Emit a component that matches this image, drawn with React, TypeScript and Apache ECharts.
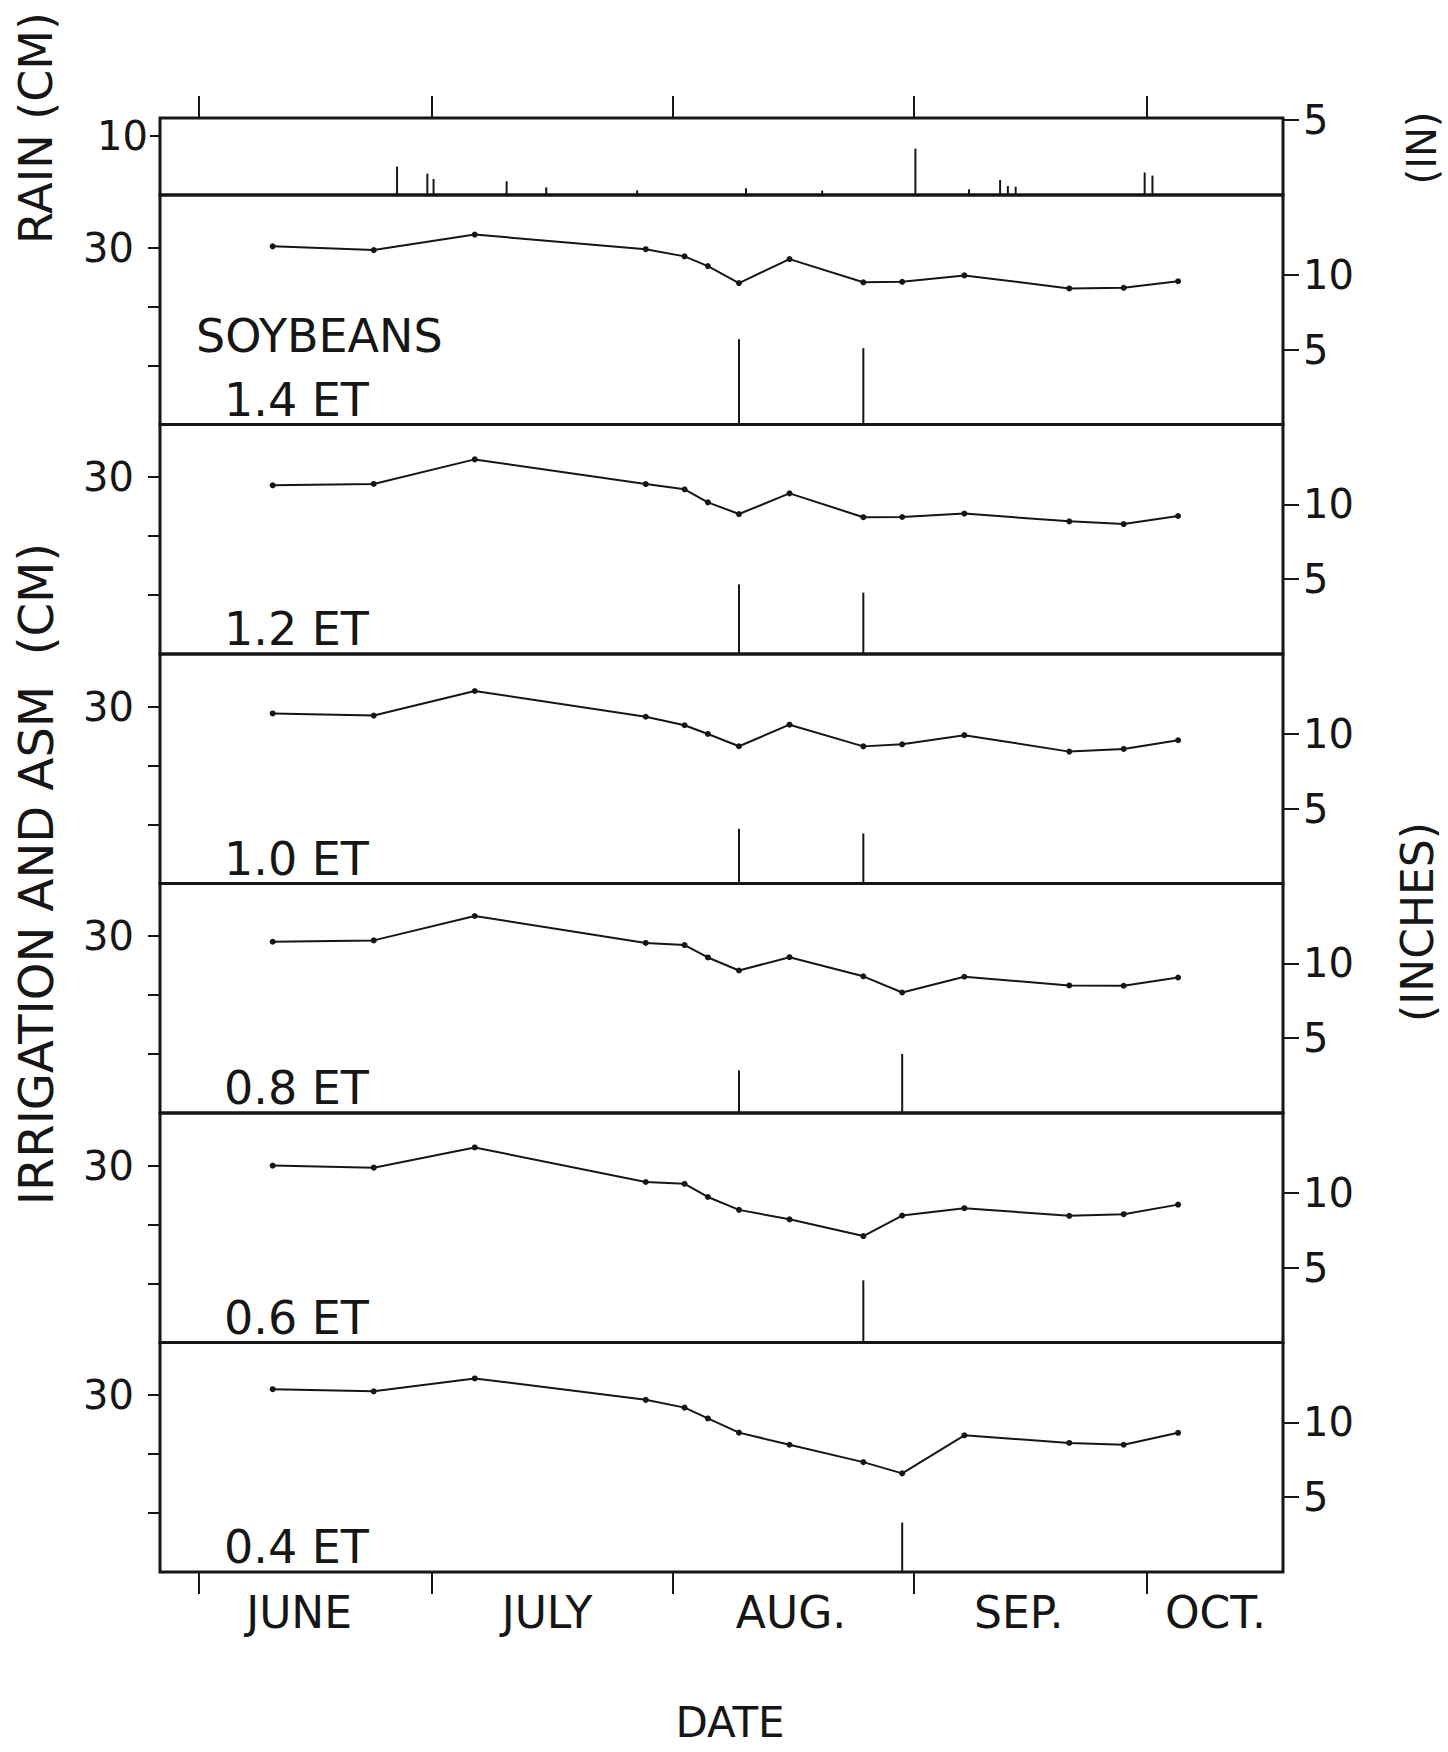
import React, { useEffect, useRef } from "react";
import * as echarts from "echarts";

// ---- data (x = days after June 1, y = inches) ----
const DAYS = [9.5, 22.5, 35.5, 57.5, 62.5, 65.5, 69.5, 76, 85.5, 90.5, 98.5, 112, 119, 126];

const PANEL_LABELS = ["1.4 ET", "1.2 ET", "1.0 ET", "0.8 ET", "0.6 ET", "0.4 ET"];

const ASM_14 = [11.9, 11.65, 12.69, 11.71, 11.23, 10.58, 9.45, 11.05, 9.5, 9.53, 9.96, 9.09, 9.13, 9.57];
const ASM_12 = [11.27, 11.36, 13.0, 11.35, 11.0, 10.13, 9.35, 10.73, 9.14, 9.15, 9.38, 8.86, 8.68, 9.22];
const ASM_10 = [11.36, 11.22, 12.86, 11.14, 10.57, 9.99, 9.17, 10.61, 9.16, 9.3, 9.91, 8.81, 8.99, 9.57];
const ASM_08 = [11.44, 11.53, 13.16, 11.36, 11.22, 10.39, 9.52, 10.41, 9.13, 8.05, 9.1, 8.52, 8.5, 9.05];
const ASM_06 = [11.82, 11.68, 13.03, 10.72, 10.6, 9.72, 8.86, 8.23, 7.11, 8.48, 8.97, 8.46, 8.57, 9.21];
const ASM_04 = [12.21, 12.07, 12.93, 11.5, 10.98, 10.26, 9.31, 8.5, 7.34, 6.59, 9.13, 8.62, 8.5, 9.3];

const IRR_DAYS_14 = [69.5, 85.5];
const IRR_IN_14 = [5.7, 5.1];
const IRR_DAYS_12 = [69.5, 85.5];
const IRR_IN_12 = [4.65, 4.1];
const IRR_DAYS_10 = [69.5, 85.5];
const IRR_IN_10 = [3.65, 3.35];
const IRR_DAYS_08 = [69.5, 90.5];
const IRR_IN_08 = [2.85, 3.95];
const IRR_DAYS_06 = [85.5];
const IRR_IN_06 = [4.15];
const IRR_DAYS_04 = [90.5];
const IRR_IN_04 = [3.3];

const RAIN_DAYS = [25.5, 29.4, 30.2, 39.6, 44.7, 56.4, 70.4, 80.2, 92.2, 99.1, 103.1, 104.1, 105.1, 121.7, 122.7];
const RAIN_IN = [1.9, 1.43, 1.07, 0.91, 0.51, 0.31, 0.45, 0.29, 3.1, 0.38, 1.0, 0.6, 0.55, 1.5, 1.3];

const MONTH_TICKS = [0, 30, 61, 92, 122];
const MONTH_NAMES = ["JUNE", "JULY", "AUG.", "SEP.", "OCT."];
const MONTH_LABEL_POS = [12.9, 44.8, 76.2, 105.5, 130.8];

const LEFT_TICKS_CM = [10, 20, 30];
const LEFT_LABELS_CM = [30];
const RIGHT_TICKS_IN = [5, 10];
const RAIN_LEFT_CM = [10];
const RAIN_RIGHT_IN = [5];

const PANELS = [
  { label: PANEL_LABELS[0], asm: ASM_14, irrDays: IRR_DAYS_14, irr: IRR_IN_14 },
  { label: PANEL_LABELS[1], asm: ASM_12, irrDays: IRR_DAYS_12, irr: IRR_IN_12 },
  { label: PANEL_LABELS[2], asm: ASM_10, irrDays: IRR_DAYS_10, irr: IRR_IN_10 },
  { label: PANEL_LABELS[3], asm: ASM_08, irrDays: IRR_DAYS_08, irr: IRR_IN_08 },
  { label: PANEL_LABELS[4], asm: ASM_06, irrDays: IRR_DAYS_06, irr: IRR_IN_06 },
  { label: PANEL_LABELS[5], asm: ASM_04, irrDays: IRR_DAYS_04, irr: IRR_IN_04 },
];

// ---- layout ----
const W = 1448;
const H = 1752;
const PLOT_LEFT = 160;
const PLOT_RIGHT = W - 1283;
const RAIN_TOP = 118;
const RAIN_H = 77;
const PANEL_TOP0 = 195;
const PANEL_H = 229.5;
const PX_PER_IN = 14.97;
const X_MIN = -5;
const X_MAX = 139.5;
const INK = "#161616";
const FONT = "DejaVu Sans";

export default function App() {
  const ref = useRef<HTMLDivElement>(null);

  useEffect(() => {
    if (!ref.current) return;
    const chart = echarts.init(ref.current, undefined, { renderer: "svg" });

    const rainMaxIn = RAIN_H / PX_PER_IN;
    const panelMaxIn = PANEL_H / PX_PER_IN;

    const grids: any[] = [];
    const xAxes: any[] = [];
    const yAxes: any[] = [];
    const series: any[] = [];
    const graphics: any[] = [];

    const gridStyle = { show: true, borderColor: INK, borderWidth: 3, backgroundColor: "transparent" };
    const noLine = { show: false, onZero: false };
    const tickStyle = { color: INK, width: 2 };
    const labelFont = { color: INK, fontSize: 40, fontFamily: FONT };

    const near = (arr: number[], v: number) => arr.findIndex((a) => Math.abs(a - v) < 1e-6);

    // rain grid
    grids.push({ left: PLOT_LEFT, right: PLOT_RIGHT, top: RAIN_TOP, height: RAIN_H, ...gridStyle });
    xAxes.push({
      type: "value", gridIndex: 0, min: X_MIN, max: X_MAX, position: "top",
      axisLine: noLine, splitLine: { show: false },
      axisTick: { show: true, inside: false, length: 22, customValues: MONTH_TICKS, lineStyle: tickStyle },
      axisLabel: { show: false },
    });
    yAxes.push({
      type: "value", gridIndex: 0, position: "left", min: 0, max: rainMaxIn * 2.54,
      axisLine: noLine, splitLine: { show: false },
      axisTick: { show: true, length: 10, customValues: RAIN_LEFT_CM, lineStyle: tickStyle },
      axisLabel: { show: true, customValues: RAIN_LEFT_CM, margin: 12, ...labelFont },
    });
    yAxes.push({
      type: "value", gridIndex: 0, position: "right", min: 0, max: rainMaxIn,
      axisLine: noLine, splitLine: { show: false },
      axisTick: { show: true, length: 16, customValues: RAIN_RIGHT_IN, lineStyle: tickStyle },
      axisLabel: { show: true, customValues: RAIN_RIGHT_IN, margin: 20, ...labelFont },
    });
    series.push({
      type: "bar", xAxisIndex: 0, yAxisIndex: 1, barWidth: 2,
      itemStyle: { color: INK },
      data: RAIN_DAYS.map((d, i) => [d, RAIN_IN[i]]),
    });

    PANELS.forEach((p, i) => {
      const g = i + 1;
      const top = PANEL_TOP0 + i * PANEL_H;
      const last = i === PANELS.length - 1;
      grids.push({ left: PLOT_LEFT, right: PLOT_RIGHT, top, height: PANEL_H, ...gridStyle });
      xAxes.push({
        type: "value", gridIndex: g, min: X_MIN, max: X_MAX, position: "bottom",
        axisLine: noLine, splitLine: { show: false },
        axisTick: last
          ? { show: true, inside: false, length: 22, customValues: MONTH_TICKS, lineStyle: tickStyle }
          : { show: false },
        axisLabel: last
          ? {
              show: true, customValues: MONTH_LABEL_POS, margin: 18, color: INK, fontSize: 44, fontFamily: FONT,
              formatter: (v: number) => {
                const k = near(MONTH_LABEL_POS, v);
                return k >= 0 ? MONTH_NAMES[k] : "";
              },
            }
          : { show: false },
      });
      yAxes.push({
        type: "value", gridIndex: g, position: "left", min: 0, max: panelMaxIn * 2.54,
        axisLine: noLine, splitLine: { show: false },
        axisTick: { show: true, length: 12, customValues: LEFT_TICKS_CM, lineStyle: tickStyle },
        axisLabel: { show: true, customValues: LEFT_LABELS_CM, margin: 26, ...labelFont },
      });
      yAxes.push({
        type: "value", gridIndex: g, position: "right", min: 0, max: panelMaxIn,
        axisLine: noLine, splitLine: { show: false },
        axisTick: { show: true, length: 16, customValues: RIGHT_TICKS_IN, lineStyle: tickStyle },
        axisLabel: { show: true, customValues: RIGHT_TICKS_IN, margin: 20, ...labelFont },
      });
      series.push({
        type: "line", xAxisIndex: g, yAxisIndex: 2 * g + 1,
        symbol: "circle", symbolSize: 6,
        lineStyle: { color: INK, width: 2 },
        itemStyle: { color: INK },
        data: DAYS.map((d, k) => [d, p.asm[k]]),
      });
      series.push({
        type: "bar", xAxisIndex: g, yAxisIndex: 2 * g + 1, barWidth: 2,
        itemStyle: { color: INK },
        data: p.irrDays.map((d, k) => [d, p.irr[k]]),
      });
      graphics.push({
        type: "text", left: 224, top: top + PANEL_H - 48,
        style: { text: p.label, fill: INK, fontSize: 46, fontFamily: FONT },
      });
    });

    const txt = (text: string, x: number, y: number, size: number, rot = 0) => ({
      type: "text", x, y, rotation: rot,
      style: {
        text, fill: INK, fontSize: size, fontFamily: FONT,
        align: "center", verticalAlign: "middle", textAlign: "center", textVerticalAlign: "middle",
      },
    });

    graphics.push({
      type: "text", left: 196, top: PANEL_TOP0 + 118,
      style: { text: "SOYBEANS", fill: INK, fontSize: 46, fontFamily: FONT },
    });
    graphics.push(txt("RAIN (CM)", 36, 128, 46, Math.PI / 2));
    graphics.push(txt("IRRIGATION AND ASM  (CM)", 36, 874, 48, Math.PI / 2));
    graphics.push(txt("(IN)", 1422, 148, 40, Math.PI / 2));
    graphics.push(txt("(INCHES)", 1417, 922, 44, Math.PI / 2));
    graphics.push(txt("DATE", 730, 1722, 42));

    chart.setOption({
      animation: false,
      backgroundColor: "#ffffff",
      grid: grids,
      xAxis: xAxes,
      yAxis: yAxes,
      series,
      graphic: graphics,
    });

    return () => chart.dispose();
  }, []);

  return (
    <div
      ref={ref}
      style={{ position: "absolute", left: 0, top: 0, width: W, height: H, background: "#fff" }}
    />
  );
}
